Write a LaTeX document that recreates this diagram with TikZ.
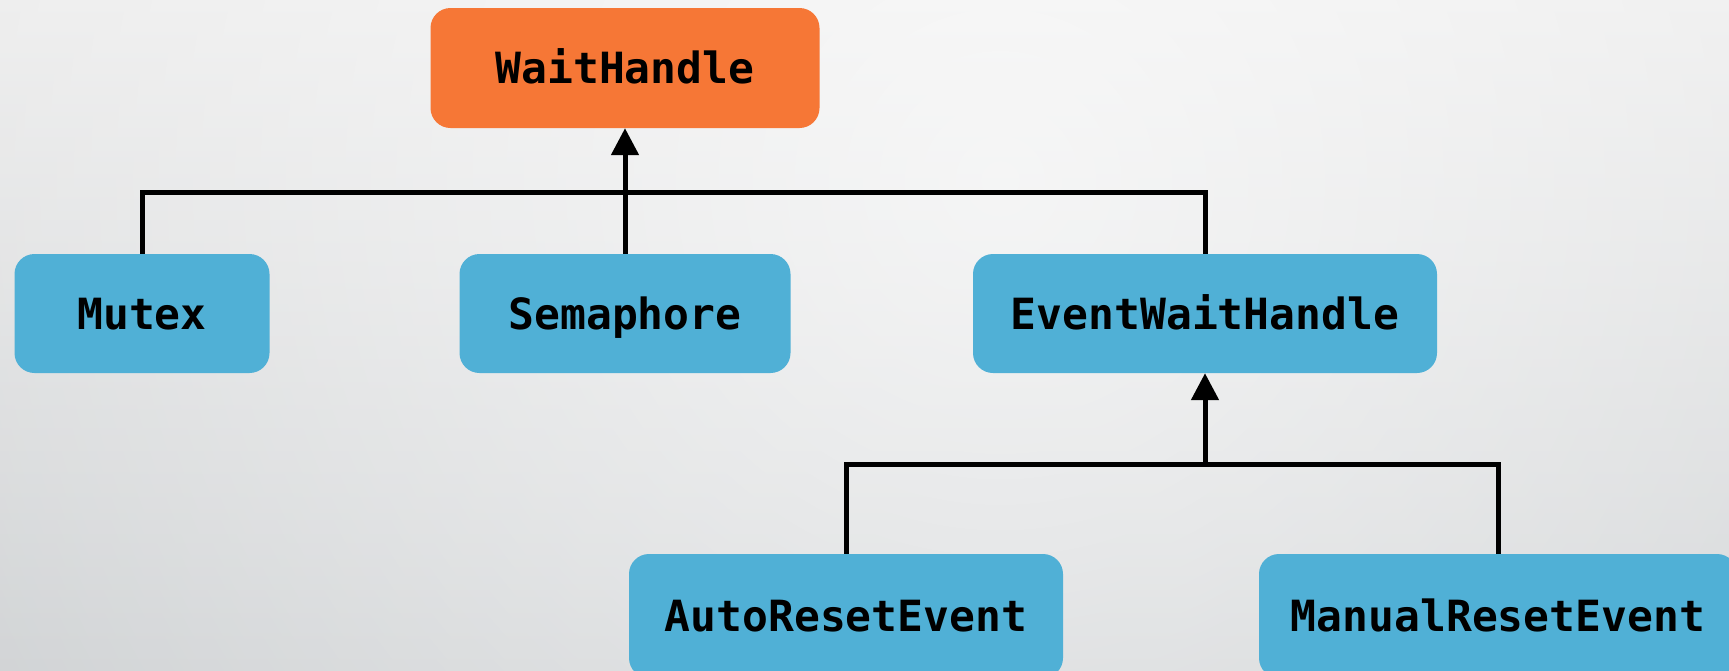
\documentclass[tikz,border=0pt]{standalone}
\usepackage{fontspec}
\setmonofont{DejaVu Sans Mono}
\usetikzlibrary{arrows.meta,fadings}
\definecolor{rootfill}{HTML}{F67736}
\definecolor{classfill}{HTML}{50B0D6}
\definecolor{bgtop}{HTML}{EBEBEB}
\definecolor{bgmid}{HTML}{E3E5E6}
\definecolor{bgbot}{HTML}{CBCED0}
\tikzfading[name=glow, inner color=transparent!35, outer color=transparent!100]
\tikzset{
  classbox/.style={rounded corners=20pt, inner sep=0pt, fill=classfill,
    text height=31pt, text depth=0pt,
    font=\ttfamily\bfseries\fontsize{43}{43}\selectfont, text=black},
  rootbox/.style={classbox, fill=rootfill},
  link/.style={line width=5pt, draw=black},
  inherit/.style={link, -{Triangle[length=27pt,width=27pt]}}
}
\begin{document}
\begin{tikzpicture}[x=1pt,y=-1pt]
  \useasboundingbox (0,0) rectangle (1729,670);
  \clip (0,0) rectangle (1729,670);
  % backdrop: vertical grey gradient with a soft light patch near the top
  \shade[top color=bgtop, middle color=bgmid, bottom color=bgbot] (0,0) rectangle (1729,670);
  \fill[white, path fading=glow, fit fading=true] (1000,180) circle (1400pt);

  % class boxes
  \node[rootbox, minimum width=389pt, minimum height=120pt] (WaitHandle) at (625,68) {WaitHandle};
  \node[classbox, minimum width=255pt, minimum height=119pt] (Mutex) at (142,313.5) {Mutex};
  \node[classbox, minimum width=331pt, minimum height=119pt] (Semaphore) at (625,313.5) {Semaphore};
  \node[classbox, minimum width=464pt, minimum height=119pt] (EventWaitHandle) at (1205,313.5) {EventWaitHandle};
  \node[classbox, minimum width=434pt, minimum height=124pt] (AutoResetEvent) at (846,616) {AutoResetEvent};
  \node[classbox, minimum width=478pt, minimum height=124pt] (ManualResetEvent) at (1498,616) {ManualResetEvent};

  % bus lines
  \coordinate (busA) at (0,192);
  \coordinate (busB) at (0,464);

  % first level of inheritance
  \draw[link] (Mutex.north) |- (busA -| EventWaitHandle.north) -- (EventWaitHandle.north);
  \draw[inherit] (Semaphore.north) -- (WaitHandle.south);

  % second level of inheritance
  \draw[link] (AutoResetEvent.north) |- (busB -| ManualResetEvent.north) -- (ManualResetEvent.north);
  \draw[inherit] (busB -| EventWaitHandle.south) -- (EventWaitHandle.south);
\end{tikzpicture}
\end{document}
